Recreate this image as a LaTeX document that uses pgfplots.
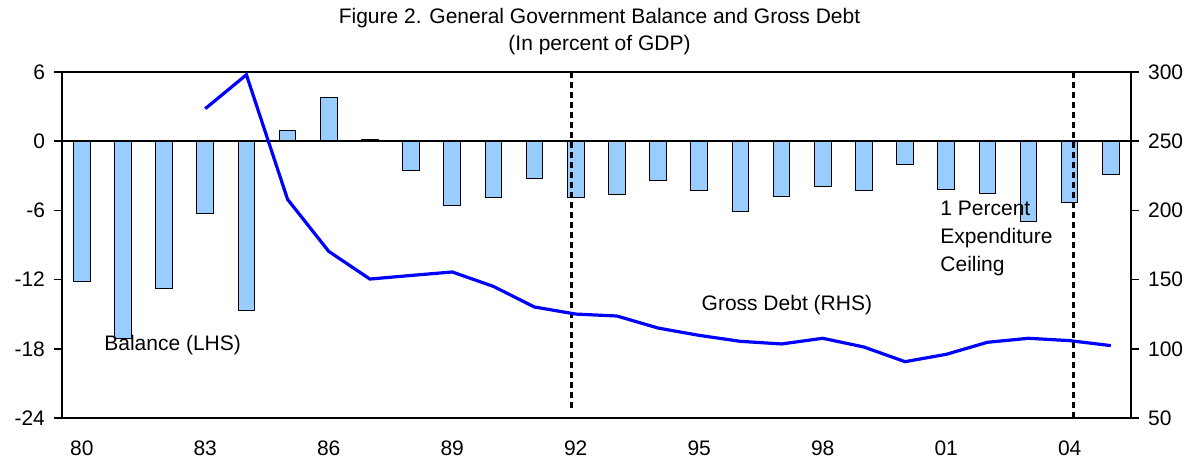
\documentclass[border=0pt]{standalone}
\usepackage{pgfplots}
\pgfplotsset{compat=1.18}
\usetikzlibrary{calc}
\usepackage{fontspec}
\setmainfont{Liberation Sans}
\definecolor{barblue}{HTML}{99CCFF}
\definecolor{lineblue}{HTML}{0000FF}
\begin{document}
\begin{tikzpicture}
\pgfplotsset{
  every axis/.append style={
    scale only axis, width=534.5pt, height=173pt,
    xmin=-0.48, xmax=25.49,
    font=\fontsize{10.5}{12.6}\selectfont,
    /pgf/number format/assume math mode=true,
    tick align=outside, major tick length=4pt,
    tick style={black, line width=0.8pt},
    axis line style={black, line width=0.8pt},
  }
}
\begin{axis}[
  name=main,
  ymin=-24, ymax=6,
  ytick={-24,-18,-12,-6,0,6},
  ytick pos=left,
  xtick={0,3,6,9,12,15,18,21,24},
  xticklabels={80,83,86,89,92,95,98,01,04},
  xtick style={draw=none},
  xticklabel style={yshift=-4pt},
  yticklabel style={xshift=-1pt},
  ybar, bar width=8.3pt,
]
\addplot[fill=barblue, draw=black, line width=0.5pt] coordinates {
(0,-12.2) (1,-17.1) (2,-12.8) (3,-6.3) (4,-14.7) (5,0.9) (6,3.8) (7,0.15)
(8,-2.5) (9,-5.6) (10,-4.9) (11,-3.25) (12,-4.9) (13,-4.65) (14,-3.4)
(15,-4.3) (16,-6.1) (17,-4.8) (18,-3.9) (19,-4.3) (20,-2.05) (21,-4.2)
(22,-4.5) (23,-7.0) (24,-5.3) (25,-2.85)
};
\draw[black, line width=0.8pt] (axis cs:-0.48,0) -- (axis cs:25.49,0);
\draw[black, line width=1.6pt, dash pattern=on 3.2pt off 1.8pt] (axis cs:11.9,6) -- (axis cs:11.9,-23.4);
\draw[black, line width=1.6pt, dash pattern=on 3.2pt off 1.8pt] (axis cs:24.09,6) -- (axis cs:24.09,-24);
\node[anchor=west, inner xsep=0pt] at (axis cs:0.54,-17.7) {Balance (LHS)};
\node[anchor=west, inner xsep=0pt] at (axis cs:15.05,-14.2) {Gross Debt (RHS)};
\node[anchor=west, align=left, inner xsep=0pt] at (axis cs:20.85,-8.4) {1 Percent\\[1.4pt]Expenditure\\[1.4pt]Ceiling};
\end{axis}
\begin{axis}[
  ymin=50, ymax=300,
  ytick={50,100,150,200,250,300},
  axis x line=none,
  axis y line*=right,
  yticklabel style={xshift=1pt},
]
\addplot[lineblue, line width=1.6pt, no markers] coordinates {
(3,273.5) (4,298) (5,208) (6,170.4) (7,150.4) (8,153) (9,155.5) (10,145.1)
(11,130.2) (12,125.1) (13,123.7) (14,115) (15,109.7) (16,105.4) (17,103.5)
(18,107.6) (19,101.3) (20,90.7) (21,96) (22,104.7) (23,107.6) (24,105.9) (25,102.3)
};
\end{axis}
\node[font=\fontsize{10.5}{12.6}\selectfont] at ($(main.north)+(1.5pt,27pt)$) {Figure 2. General Government Balance and Gross Debt};
\node[font=\fontsize{10.5}{12.6}\selectfont] at ($(main.north)+(1.5pt,13.5pt)$) {(In percent of GDP)};
\pgfresetboundingbox
\path[use as bounding box] ($(main.south west)+(-31pt,-21.5pt)$) rectangle ($(main.north east)+(30.5pt,36pt)$);
\end{tikzpicture}
\end{document}
